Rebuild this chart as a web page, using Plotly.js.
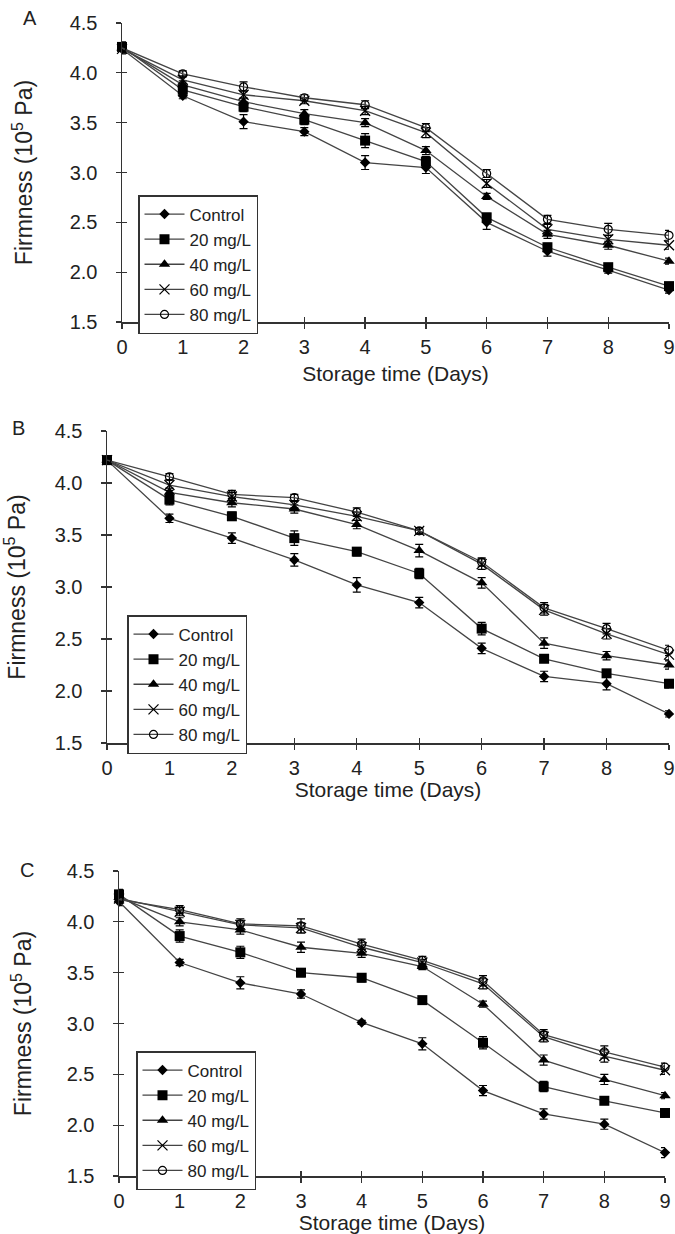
<!DOCTYPE html>
<html>
<head>
<meta charset="utf-8">
<script src="https://cdn.plot.ly/plotly-3.0.1.min.js"></script>
<style>html,body{margin:0;padding:0;background:#fff;}#chart{width:675px;height:1234px;}</style>
</head>
<body>
<div id="chart"></div>
<script>
// ---- data ----
const days = [0, 1, 2, 3, 4, 5, 6, 7, 8, 9];
const seriesNames = ["Control", "20 mg/L", "40 mg/L", "60 mg/L", "80 mg/L"];
const panelLabels = ["A", "B", "C"];
const xTitle = "Storage time (Days)";
const yTitle = "Firmness (10<sup>5</sup> Pa)";

// Panel A
const ctrlA = [4.24, 3.77, 3.51, 3.41, 3.10, 3.05, 2.50, 2.21, 2.02, 1.82];
const m20A  = [4.26, 3.83, 3.66, 3.53, 3.32, 3.11, 2.55, 2.25, 2.05, 1.86];
const m40A  = [4.25, 3.88, 3.71, 3.59, 3.50, 3.22, 2.76, 2.38, 2.27, 2.11];
const m60A  = [4.24, 3.93, 3.78, 3.72, 3.62, 3.40, 2.89, 2.43, 2.33, 2.27];
const m80A  = [4.25, 3.99, 3.86, 3.75, 3.68, 3.45, 2.99, 2.53, 2.43, 2.37];
const errCtrlA = [0.05, 0.03, 0.07, 0.04, 0.07, 0.06, 0.07, 0.05, 0.03, 0.03];
const err20A   = [0.05, 0.04, 0.05, 0.05, 0.07, 0.05, 0.04, 0.04, 0.03, 0.03];
const err40A   = [0.04, 0.04, 0.04, 0.04, 0.04, 0.04, 0.03, 0.04, 0.04, 0.03];
const err60A   = [0.04, 0.04, 0.04, 0.03, 0.04, 0.05, 0.04, 0.05, 0.04, 0.04];
const err80A   = [0.04, 0.03, 0.05, 0.03, 0.04, 0.04, 0.04, 0.04, 0.06, 0.05];

// Panel B
const ctrlB = [4.22, 3.66, 3.47, 3.26, 3.02, 2.85, 2.41, 2.14, 2.07, 1.78];
const m20B  = [4.22, 3.84, 3.68, 3.47, 3.34, 3.13, 2.60, 2.31, 2.17, 2.07];
const m40B  = [4.22, 3.91, 3.81, 3.75, 3.60, 3.35, 3.04, 2.46, 2.34, 2.25];
const m60B  = [4.22, 3.98, 3.87, 3.79, 3.68, 3.54, 3.22, 2.78, 2.55, 2.35];
const m80B  = [4.22, 4.06, 3.89, 3.86, 3.72, 3.54, 3.24, 2.80, 2.60, 2.39];
const errCtrlB = [0.04, 0.04, 0.05, 0.06, 0.07, 0.05, 0.05, 0.05, 0.06, 0.03];
const err20B   = [0.04, 0.05, 0.04, 0.07, 0.04, 0.05, 0.06, 0.03, 0.03, 0.04];
const err40B   = [0.04, 0.04, 0.04, 0.04, 0.04, 0.06, 0.05, 0.05, 0.04, 0.04];
const err60B   = [0.04, 0.05, 0.04, 0.03, 0.04, 0.03, 0.05, 0.05, 0.05, 0.05];
const err80B   = [0.04, 0.03, 0.04, 0.03, 0.04, 0.03, 0.04, 0.05, 0.05, 0.05];

// Panel C
const ctrlC = [4.20, 3.60, 3.40, 3.29, 3.01, 2.80, 2.34, 2.11, 2.01, 1.73];
const m20C  = [4.27, 3.86, 3.70, 3.50, 3.45, 3.23, 2.81, 2.38, 2.24, 2.12];
const m40C  = [4.24, 4.00, 3.92, 3.75, 3.69, 3.56, 3.19, 2.64, 2.45, 2.29];
const m60C  = [4.23, 4.10, 3.97, 3.94, 3.75, 3.60, 3.39, 2.87, 2.68, 2.54];
const m80C  = [4.22, 4.12, 3.98, 3.96, 3.78, 3.62, 3.42, 2.89, 2.72, 2.57];
const errCtrlC = [0.04, 0.03, 0.06, 0.04, 0.02, 0.06, 0.05, 0.05, 0.05, 0.05];
const err20C   = [0.05, 0.06, 0.06, 0.04, 0.04, 0.03, 0.06, 0.05, 0.03, 0.04];
const err40C   = [0.04, 0.04, 0.04, 0.05, 0.04, 0.03, 0.03, 0.05, 0.05, 0.03];
const err60C   = [0.04, 0.04, 0.04, 0.05, 0.05, 0.03, 0.05, 0.05, 0.06, 0.04];
const err80C   = [0.04, 0.04, 0.05, 0.07, 0.05, 0.04, 0.05, 0.05, 0.06, 0.04];

const xTicks = days;
const yTicks = [1.5, 2.0, 2.5, 3.0, 3.5, 4.0, 4.5];
const yTickText = ["1.5", "2.0", "2.5", "3.0", "3.5", "4.0", "4.5"];

// ---- styles ----
const FONT = "Liberation Sans, Arial, sans-serif";
const INK = "#222";
const LINE = "#444";
const markerStyles = [
  {symbol: "diamond", size: 8, color: "#000"},
  {symbol: "square", size: 10, color: "#000"},
  {symbol: "triangle-up", size: 10, color: "#000"},
  {symbol: "x-thin-open", size: 10, color: "#000", line: {width: 1.3, color: "#000"}},
  {symbol: "circle-open", size: 8, color: "#000", line: {width: 1.2, color: "#000"}}
];

const panels = [
  {values: [ctrlA, m20A, m40A, m60A, m80A], errs: [errCtrlA, err20A, err40A, err60A, err80A]},
  {values: [ctrlB, m20B, m40B, m60B, m80B], errs: [errCtrlB, err20B, err40B, err60B, err80B]},
  {values: [ctrlC, m20C, m40C, m60C, m80C], errs: [errCtrlC, err20C, err40C, err60C, err80C]}
];

const W = 675, H = 1234;
// pixel geometry of each plot area: [left, right, top, bottom]
const geom = [
  [122, 669, 23, 322],
  [107, 669, 431, 743],
  [119, 665, 871, 1176]
];
const legendPos = [[138, 195], [127, 615], [136, 1051]];
const labelPos = [[30, 18], [18, 428], [27, 870]];
const yTitleStandoff = [30, 31, 28];
const xTitleStandoff = [10, 4, 3];

const traces = [];
const layout = {
  width: W, height: H,
  margin: {l: 0, r: 0, t: 0, b: 0},
  paper_bgcolor: "#fff", plot_bgcolor: "rgba(0,0,0,0)",
  font: {family: FONT, size: 20, color: INK},
  showlegend: true,
  annotations: []
};

panels.forEach((p, i) => {
  const n = i === 0 ? "" : String(i + 1);
  const xa = "x" + n, ya = "y" + n;
  const legendId = "legend" + n;
  p.values.forEach((vals, k) => {
    traces.push({
      type: "scatter", mode: "lines+markers",
      x: days, y: vals, name: seriesNames[k],
      xaxis: xa, yaxis: ya, legend: legendId,
      line: {color: LINE, width: 1.3},
      marker: markerStyles[k],
      error_y: {type: "data", array: p.errs[k], visible: true, color: "#000", thickness: 1.2, width: 4},
      cliponaxis: false
    });
  });
  const g = geom[i];
  const xdom = [g[0] / W, g[1] / W];
  const ydom = [1 - g[3] / H, 1 - g[2] / H];
  layout["xaxis" + n] = {
    domain: xdom, anchor: ya, range: [0, 9],
    tickvals: xTicks, ticks: "outside", ticklen: 5, tickwidth: 1.3, tickcolor: "#333",
    showline: true, linecolor: "#333", linewidth: 1.5,
    showgrid: false, zeroline: false, fixedrange: true,
    tickfont: {size: 20, color: INK}, ticklabelstandoff: 1,
    title: {text: xTitle, font: {size: 21, color: INK}, standoff: xTitleStandoff[i]}
  };
  layout["yaxis" + n] = {
    domain: ydom, anchor: xa, range: [1.5, 4.5],
    tickvals: yTicks, ticktext: yTickText, ticks: "outside", ticklen: 5, tickwidth: 1.3, tickcolor: "#333",
    showline: true, linecolor: "#333", linewidth: 1.5,
    showgrid: false, zeroline: false, fixedrange: true,
    tickfont: {size: 20, color: INK}, ticklabelstandoff: 14,
    title: {text: yTitle, font: {size: 23, color: INK}, standoff: yTitleStandoff[i]}
  };
  layout[legendId] = {
    x: legendPos[i][0] / W, y: 1 - legendPos[i][1] / H,
    xanchor: "left", yanchor: "top",
    bgcolor: "#fff", bordercolor: "#333", borderwidth: 1.5,
    font: {size: 17, color: INK}, tracegroupgap: 0, itemwidth: 40
  };
  layout.annotations.push({
    text: panelLabels[i], xref: "paper", yref: "paper",
    x: labelPos[i][0] / W, y: 1 - labelPos[i][1] / H,
    xanchor: "center", yanchor: "middle", showarrow: false,
    font: {size: 20, color: INK}
  });
});

// overlay axes that add the inner half of each crossing tick
panels.forEach((p, i) => {
  const n = i === 0 ? "" : String(i + 1);
  const on = String(i + 4);
  const g = geom[i];
  layout["xaxis" + on] = {
    domain: [g[0] / W, g[1] / W], overlaying: "x" + n, anchor: "y" + n, range: [0, 9],
    tickvals: xTicks, ticks: "inside", ticklen: 5, tickwidth: 1.3, tickcolor: "#333",
    showticklabels: false, showline: false, showgrid: false, zeroline: false, fixedrange: true
  };
  layout["yaxis" + on] = {
    domain: [1 - g[3] / H, 1 - g[2] / H], overlaying: "y" + n, anchor: "x" + n, range: [1.5, 4.5],
    tickvals: yTicks, ticks: "inside", ticklen: 5, tickwidth: 1.3, tickcolor: "#333",
    showticklabels: false, showline: false, showgrid: false, zeroline: false, fixedrange: true
  };
  traces.push({type: "scatter", x: [], y: [], xaxis: "x" + on, yaxis: "y" + on, showlegend: false, hoverinfo: "skip"});
});

Plotly.newPlot("chart", traces, layout, {displayModeBar: false, staticPlot: true});
</script>
</body>
</html>
